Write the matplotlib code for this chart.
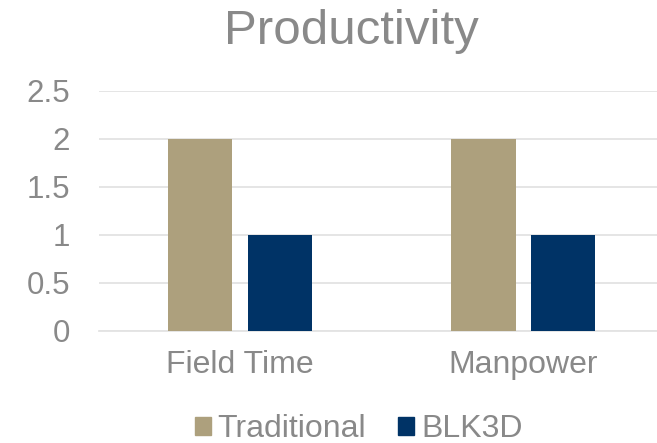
import numpy as np
import matplotlib
matplotlib.use("Agg")
from matplotlib import pyplot as plt
from matplotlib.patches import Patch

#Chart data
categories = ["Field Time", "Manpower"]
traditional = [2, 2]
blk3d = [1, 1]
series_names = ["Traditional", "BLK3D"]
yticks = [0, 0.5, 1, 1.5, 2, 2.5]
ytick_labels = ["0", "0.5", "1", "1.5", "2", "2.5"]

TAN = "#ADA07D"
NAVY = "#003366"
GRAY = "#898989"
GRID = "#E3E3E3"

plt.rcParams["font.family"] = ["Liberation Sans", "DejaVu Sans"]

W, H = 657, 443
fig = plt.figure(figsize=(W / 100, H / 100), dpi=100)
ax = fig.add_axes([99 / W, 1 - 330.7 / H, (657 - 99) / W, (330.7 - 91) / H])

x = np.arange(len(categories))
width = 0.226
offset = 0.141
ax.bar(x - offset, traditional, width, color=TAN, zorder=3)
ax.bar(x + offset, blk3d, width, color=NAVY, zorder=3)

ax.set_xlim(-0.497, 1.471)
ax.set_ylim(0, 2.5)
ax.set_yticks(yticks)
ax.set_yticklabels(ytick_labels)
ax.set_xticks(x)
ax.set_xticklabels(categories)
ax.yaxis.grid(True, color=GRID, linewidth=1.3, zorder=0)
ax.tick_params(axis="y", length=0, labelsize=22.5, labelcolor=GRAY, pad=21)
ax.tick_params(axis="x", length=0, labelsize=23, labelcolor=GRAY, pad=14)
for s in ["top", "right", "left"]:
    ax.spines[s].set_visible(False)
ax.spines["bottom"].set_color(GRID)
ax.spines["bottom"].set_linewidth(1.3)

fig.text(0.535, 1 - 31 / H, "Productivity", ha="center", va="center", fontsize=35.5, color=GRAY)

handles = [Patch(color=TAN), Patch(color=NAVY)]
fig.legend(handles, series_names, loc="center", bbox_to_anchor=(0.546, 1 - 429 / H),
           ncol=2, frameon=False, fontsize=23, labelcolor=GRAY,
           handlelength=0.5, handleheight=0.5, handletextpad=0.22, columnspacing=1.0)

plt.savefig("out.png", dpi=100)
